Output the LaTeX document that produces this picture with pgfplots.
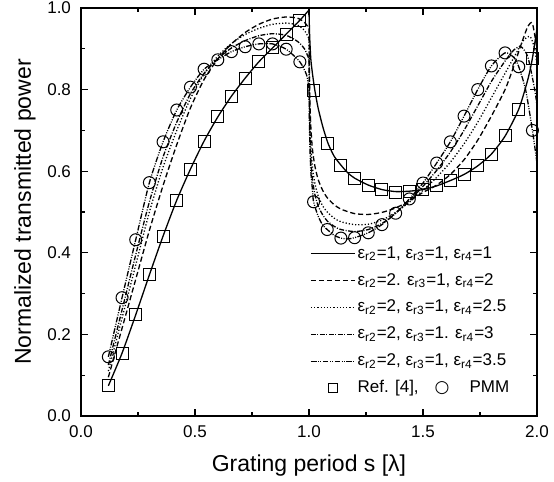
\documentclass[border=0pt]{standalone}
\usepackage{fontspec}
\setmainfont{Liberation Sans}
\newfontfamily\dejavu{DejaVu Sans}
\usepackage{pgfplots}
\pgfplotsset{compat=1.18}

\pgfplotstableread{
x y
0.12 0.074
0.18 0.154
0.24 0.248
0.30 0.346
0.36 0.441
0.42 0.529
0.48 0.605
0.54 0.674
0.60 0.733
0.66 0.784
0.72 0.828
0.78 0.868
0.84 0.902
0.90 0.936
0.96 0.970
1.02 0.797
1.08 0.669
1.14 0.615
1.20 0.581
1.26 0.566
1.32 0.554
1.38 0.549
1.44 0.551
1.50 0.554
1.56 0.564
1.62 0.576
1.68 0.591
1.74 0.613
1.80 0.642
1.86 0.687
1.92 0.752
1.98 0.875
}\squares

\pgfplotstableread{
x y
0.12 0.145
0.18 0.290
0.24 0.432
0.30 0.572
0.36 0.672
0.42 0.750
0.48 0.806
0.54 0.850
0.60 0.873
0.66 0.893
0.72 0.905
0.78 0.912
0.84 0.912
0.90 0.899
0.96 0.868
1.02 0.525
1.08 0.457
1.14 0.436
1.20 0.437
1.26 0.449
1.32 0.469
1.38 0.497
1.44 0.532
1.50 0.571
1.56 0.620
1.62 0.672
1.68 0.735
1.74 0.800
1.80 0.858
1.86 0.890
1.92 0.856
1.98 0.700
}\circles

\begin{document}
\begin{tikzpicture}
\useasboundingbox (-40.5pt,-33pt) rectangle (236.5pt,208pt);
\begin{axis}[
  scale only axis, width=228pt, height=204pt,
  at={(0pt,0pt)}, anchor=south west,
  xmin=0, xmax=2, ymin=0, ymax=1,
  xtick={0,0.5,1,1.5,2}, xticklabels={0.0,0.5,1.0,1.5,2.0},
  ytick={0,0.2,0.4,0.6,0.8,1}, yticklabels={0.0,0.2,0.4,0.6,0.8,1.0},
  minor x tick num=1, minor y tick num=1,
  tick align=inside,
  major tick length=3.5pt, minor tick length=2pt,
  every tick/.style={black, line width=0.6pt},
  axis line style={line width=0.8pt},
  tick label style={font=\fontsize{8.5}{10}\selectfont},
  xticklabel style={yshift=-1.5pt},
  yticklabel style={xshift=-1.5pt},
  xlabel={Grating period s [λ]},
  ylabel={Normalized transmitted power},
  label style={font=\fontsize{11.5}{13}\selectfont},
  xlabel style={at={(axis description cs:0.5,-0.1225)}, anchor=center},
  ylabel style={at={(axis description cs:-0.1228,0.5)}, anchor=center},
  legend style={draw=none, fill=none, at={(0.502,0.419)}, anchor=north west,
    inner sep=0pt, row sep=5pt, column sep=0.5pt,
    font=\fontsize{8.5}{10}\selectfont,
    nodes={inner sep=0.5pt}},
  legend cell align=left,
  legend image code/.code={\draw[#1] (0pt,0pt) -- (22pt,0pt);},
  every axis plot/.append style={black, line width=0.65pt},
]
% eps_r4 = 1 (solid)
\addplot[solid, smooth, tension=0.4] coordinates {
(0.12,0.074)(0.18,0.154)(0.24,0.248)(0.30,0.346)(0.36,0.441)(0.42,0.529)
(0.48,0.605)(0.54,0.674)(0.60,0.733)(0.66,0.784)(0.72,0.828)(0.78,0.868)
(0.84,0.902)(0.90,0.936)(0.96,0.970)(1.00,0.995)};
\addlegendentry{ε\textsubscript{r2}=1, ε\textsubscript{r3}=1, ε\textsubscript{r4}=1}
\addplot[solid, smooth, tension=0.4, forget plot] coordinates {
(1.000,0.995)(1.003,0.930)(1.008,0.875)(1.015,0.840)(1.026,0.797)(1.04,0.755)
(1.06,0.710)(1.083,0.669)(1.11,0.637)(1.14,0.615)(1.17,0.596)(1.20,0.583)
(1.26,0.566)(1.32,0.555)(1.38,0.550)(1.44,0.551)(1.50,0.555)(1.56,0.564)
(1.62,0.577)(1.68,0.592)(1.74,0.613)(1.80,0.642)(1.86,0.686)(1.92,0.752)
(1.96,0.825)(1.98,0.877)(2.00,0.950)};
% eps_r4 = 2 (dashed)
\addplot[dash pattern=on 2.6pt off 1.4pt, smooth, tension=0.4] coordinates {
(0.12,0.095)(0.18,0.215)(0.24,0.335)(0.30,0.455)(0.36,0.565)(0.42,0.665)
(0.48,0.755)(0.54,0.825)(0.60,0.875)(0.66,0.912)(0.72,0.940)(0.78,0.960)
(0.84,0.973)(0.90,0.978)(0.95,0.975)(0.98,0.965)(1.00,0.950)};
\addlegendentry{ε\textsubscript{r2}=2. ε\textsubscript{r3}=1, ε\textsubscript{r4}=2}
\addplot[dash pattern=on 2.6pt off 1.4pt, smooth, tension=0.4, forget plot] coordinates {
(1.000,0.950)(1.003,0.800)(1.008,0.710)(1.015,0.655)(1.025,0.615)(1.04,0.580)
(1.06,0.553)(1.08,0.535)(1.11,0.518)(1.14,0.507)(1.20,0.496)(1.26,0.494)
(1.32,0.499)(1.38,0.510)(1.44,0.527)(1.50,0.548)(1.56,0.566)(1.62,0.592)
(1.68,0.628)(1.74,0.676)(1.80,0.735)(1.86,0.800)(1.90,0.860)(1.93,0.910)
(1.96,0.955)(1.98,0.962)(2.00,0.900)};
% eps_r4 = 2.5 (dotted)
\addplot[dash pattern=on 0.6pt off 1pt, smooth, tension=0.4] coordinates {
(0.12,0.110)(0.18,0.240)(0.24,0.370)(0.30,0.500)(0.36,0.610)(0.42,0.700)
(0.48,0.778)(0.54,0.838)(0.60,0.882)(0.66,0.913)(0.72,0.935)(0.78,0.950)
(0.84,0.960)(0.90,0.963)(0.95,0.958)(0.98,0.945)(1.00,0.925)};
\addlegendentry{ε\textsubscript{r2}=2, ε\textsubscript{r3}=1, ε\textsubscript{r4}=2.5}
\addplot[dash pattern=on 0.6pt off 1pt, smooth, tension=0.4, forget plot] coordinates {
(1.000,0.925)(1.003,0.760)(1.008,0.665)(1.015,0.610)(1.025,0.572)(1.04,0.540)
(1.06,0.515)(1.08,0.500)(1.11,0.485)(1.14,0.476)(1.20,0.469)(1.26,0.470)
(1.32,0.480)(1.38,0.499)(1.44,0.524)(1.50,0.553)(1.56,0.585)(1.62,0.622)
(1.68,0.667)(1.74,0.720)(1.80,0.780)(1.86,0.840)(1.90,0.880)(1.94,0.920)
(1.97,0.930)(1.99,0.900)(2.00,0.860)};
% eps_r4 = 3 (dash-dot)
\addplot[dash pattern=on 2.4pt off 0.8pt on 0.5pt off 0.8pt, smooth, tension=0.4] coordinates {
(0.12,0.125)(0.18,0.260)(0.24,0.395)(0.30,0.525)(0.36,0.635)(0.42,0.720)
(0.48,0.790)(0.54,0.840)(0.60,0.876)(0.66,0.902)(0.72,0.920)(0.78,0.932)
(0.84,0.937)(0.90,0.933)(0.95,0.918)(0.98,0.900)(1.00,0.875)};
\addlegendentry{ε\textsubscript{r2}=2, ε\textsubscript{r3}=1. ε\textsubscript{r4}=3}
\addplot[dash pattern=on 2.4pt off 0.8pt on 0.5pt off 0.8pt, smooth, tension=0.4, forget plot] coordinates {
(1.000,0.875)(1.003,0.720)(1.008,0.630)(1.015,0.580)(1.025,0.545)(1.04,0.515)
(1.06,0.493)(1.08,0.478)(1.11,0.465)(1.14,0.457)(1.20,0.452)(1.26,0.457)
(1.32,0.472)(1.38,0.497)(1.44,0.528)(1.50,0.563)(1.56,0.602)(1.62,0.647)
(1.68,0.700)(1.74,0.760)(1.80,0.820)(1.86,0.870)(1.90,0.898)(1.93,0.905)
(1.96,0.880)(1.99,0.800)(2.00,0.760)};
% eps_r4 = 3.5 (dash-dot-dot)
\addplot[dash pattern=on 2.8pt off 0.7pt on 0.5pt off 0.7pt on 0.5pt off 0.7pt, smooth, tension=0.4] coordinates {
(0.12,0.145)(0.18,0.290)(0.24,0.432)(0.30,0.572)(0.36,0.672)(0.42,0.750)
(0.48,0.806)(0.54,0.850)(0.60,0.873)(0.66,0.893)(0.72,0.905)(0.78,0.912)
(0.84,0.912)(0.90,0.899)(0.96,0.868)(0.99,0.835)(1.00,0.800)};
\addlegendentry{ε\textsubscript{r2}=2, ε\textsubscript{r3}=1, ε\textsubscript{r4}=3.5}
\addplot[dash pattern=on 2.8pt off 0.7pt on 0.5pt off 0.7pt on 0.5pt off 0.7pt, smooth, tension=0.4, forget plot] coordinates {
(1.000,0.800)(1.003,0.680)(1.008,0.600)(1.015,0.555)(1.02,0.525)(1.04,0.490)
(1.06,0.468)(1.08,0.457)(1.11,0.443)(1.14,0.436)(1.17,0.434)(1.20,0.437)
(1.26,0.449)(1.32,0.469)(1.38,0.497)(1.44,0.532)(1.50,0.571)(1.56,0.620)
(1.62,0.672)(1.68,0.735)(1.74,0.800)(1.80,0.858)(1.86,0.890)(1.90,0.878)
(1.92,0.856)(1.95,0.800)(1.98,0.700)(2.00,0.620)};
% markers
\addplot[only marks, mark=square, mark size=3pt, mark options={solid, line width=0.5pt}, forget plot] table[x=x,y=y] {\squares};
\addplot[only marks, mark=o, mark size=3pt, mark options={solid, line width=0.5pt}, forget plot] table[x=x,y=y] {\circles};
\addlegendimage{legend image code/.code={\draw[line width=0.5pt, mark=square, mark size=2.2pt, mark options={solid}] plot coordinates {(11pt,0pt)};}}
\addlegendentry{Ref. [4],\hspace{8pt}{\dejavu ○}\hspace{10pt}PMM}
\end{axis}
\end{tikzpicture}
\end{document}
